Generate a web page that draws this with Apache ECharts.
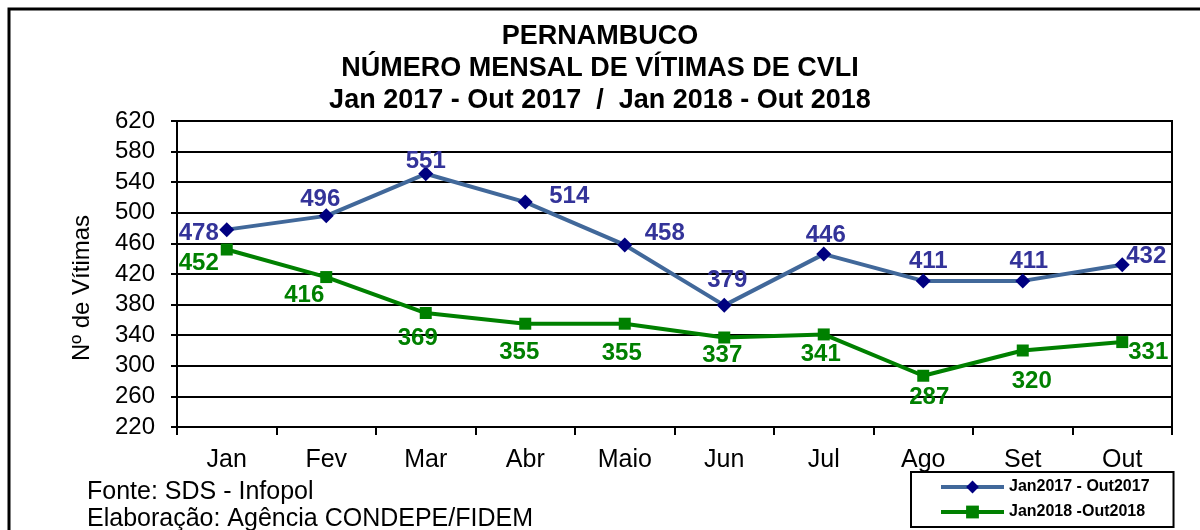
<!DOCTYPE html>
<html>
<head>
<meta charset="utf-8">
<script src="https://cdn.jsdelivr.net/npm/echarts@6/dist/echarts.min.js"></script>
<style>
  html, body { margin: 0; padding: 0; background: #fff; }
  #chart { width: 1200px; height: 530px; }
</style>
</head>
<body>
<div id="chart"></div>
<script>
const months = ['Jan', 'Fev', 'Mar', 'Abr', 'Maio', 'Jun', 'Jul', 'Ago', 'Set', 'Out'];
const vitimas2017 = [478, 496, 551, 514, 458, 379, 446, 411, 411, 432];
const vitimas2018 = [452, 416, 369, 355, 355, 337, 341, 287, 320, 331];
const seriesNames = ['Jan2017 - Out2017', 'Jan2018 -Out2018'];

// deslocamento dos rótulos em relação ao ponto (como foram arrastados no Excel)
const offsets2017 = [[-28, 4], [-6, -16], [0, -12], [44, -6], [40, -12], [3, -25], [2, -19], [5, -20], [6, -20], [24, -8]];
const offsets2018 = [[-28, 14], [-22, 18], [-8, 25], [-6, 29], [-3, 30], [-2, 18], [-3, 20], [6, 22], [9, 31], [26, 10]];

const font = 'Liberation Sans, Arial, sans-serif';

const withLabels = (values, offsets, color) => values.map((v, i) => ({
  value: v,
  label: { show: true, position: 'inside', offset: offsets[i], color: color,
           fontFamily: font, fontSize: 24, fontWeight: 'bold' }
}));

const chart = echarts.init(document.getElementById('chart'));
chart.setOption({
  animation: false,
  title: {
    text: 'PERNAMBUCO\nNÚMERO MENSAL DE VÍTIMAS DE CVLI\nJan 2017 - Out 2017  /  Jan 2018 - Out 2018',
    left: 'center',
    top: 16,
    textStyle: { fontFamily: font, fontSize: 27, fontWeight: 'bold', color: '#000', lineHeight: 32 }
  },
  legend: {
    orient: 'vertical',
    left: 911,
    top: 472,
    padding: [7, 24, 7, 28],
    itemWidth: 63,
    itemHeight: 16,
    itemGap: 9,
    borderColor: '#000',
    borderWidth: 2,
    lineStyle: { width: 4 },
    textStyle: { fontFamily: font, fontSize: 16, fontWeight: 'bold', color: '#000' },
    data: seriesNames
  },
  grid: {
    left: 177, right: 28, top: 121, bottom: 103,
    show: true, borderColor: '#000', borderWidth: 2
  },
  xAxis: {
    type: 'category',
    data: months,
    boundaryGap: true,
    axisLine: { lineStyle: { color: '#000', width: 2 } },
    axisTick: { show: true, length: 8, lineStyle: { color: '#000', width: 2 } },
    axisLabel: { color: '#000', fontFamily: font, fontSize: 25, margin: 21 }
  },
  yAxis: {
    type: 'value',
    min: 220, max: 620, interval: 40,
    axisLine: { show: true, lineStyle: { color: '#000', width: 2 } },
    axisTick: { show: true, length: 6, lineStyle: { color: '#000', width: 2 } },
    axisLabel: { color: '#000', fontFamily: font, fontSize: 24, margin: 22 },
    splitLine: { lineStyle: { color: '#000', width: 2 } }
  },
  graphic: [
    { type: 'rect', shape: { x: 9, y: 9, width: 1300, height: 600 },
      style: { fill: 'none', stroke: '#000', lineWidth: 3 }, silent: true },
    { type: 'text', x: 82, y: 288, rotation: Math.PI / 2,
      style: { text: 'Nº de Vítimas', font: '24px ' + font, fill: '#000',
               align: 'center', verticalAlign: 'middle' } },
    { type: 'text', left: 87, top: 480,
      style: { text: 'Fonte: SDS - Infopol', font: '25px ' + font, fill: '#000' } },
    { type: 'text', left: 87, top: 507,
      style: { text: 'Elaboração: Agência CONDEPE/FIDEM', font: '25px ' + font, fill: '#000' } }
  ],
  series: [
    {
      name: seriesNames[0],
      type: 'line',
      data: withLabels(vitimas2017, offsets2017, '#333399'),
      symbol: 'diamond',
      symbolSize: 15,
      lineStyle: { color: '#41689A', width: 4 },
      itemStyle: { color: '#000080' },
      z: 3
    },
    {
      name: seriesNames[1],
      type: 'line',
      data: withLabels(vitimas2018, offsets2018, '#008000'),
      symbol: 'rect',
      symbolSize: 12,
      lineStyle: { color: '#008000', width: 4 },
      itemStyle: { color: '#008000' },
      z: 3
    }
  ]
});
</script>
</body>
</html>
